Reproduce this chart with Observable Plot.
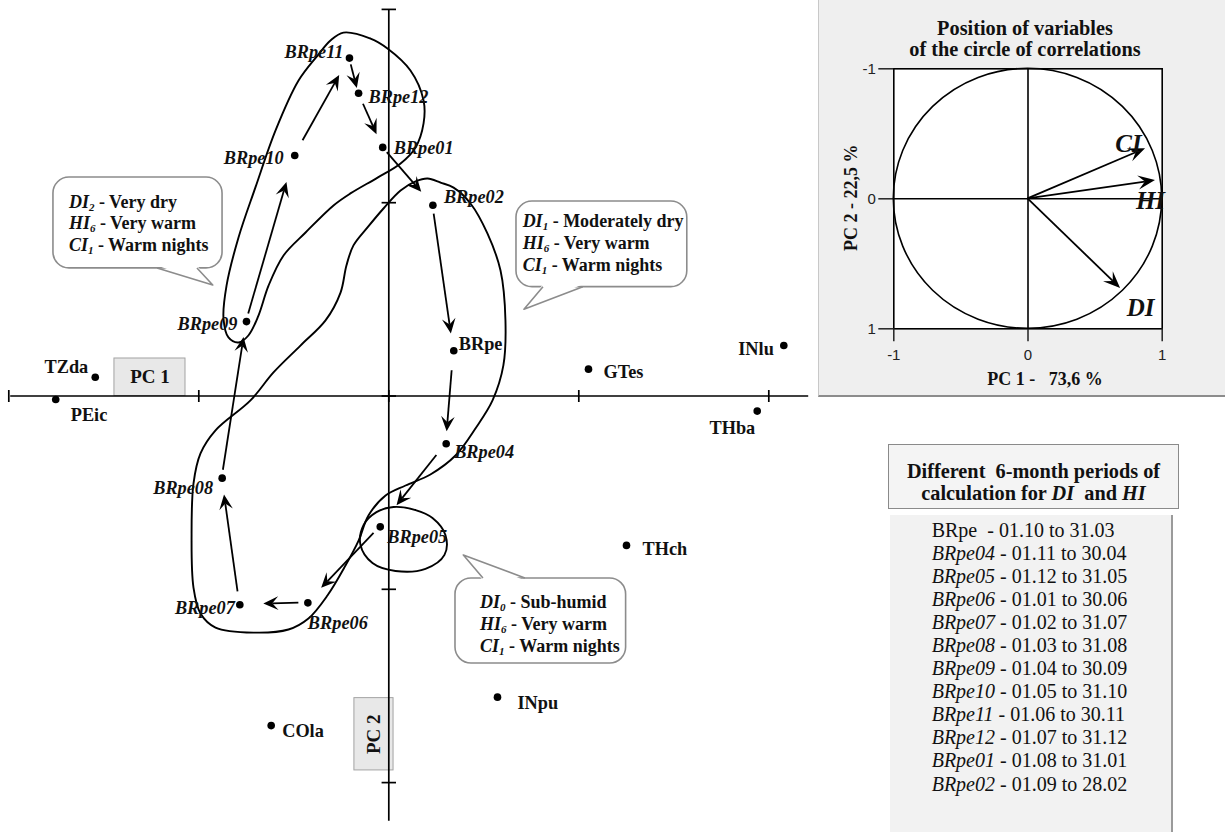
<!DOCTYPE html>
<html>
<head>
<meta charset="utf-8">
<script src="https://cdn.jsdelivr.net/npm/d3@7"></script>
<script src="https://cdn.jsdelivr.net/npm/@observablehq/plot@0.6"></script>
<style>
  body { margin: 0; background: #fff; }
  #wrap { position: relative; width: 1225px; height: 832px; overflow: hidden;
          font-family: "Liberation Serif", "Times New Roman", serif; color: #111; }
  #main { position: absolute; left: 0; top: 0; }
  #panel { position: absolute; left: 818px; top: 0; width: 407px; height: 397px; box-sizing: border-box;
           background: #efefef; border-left: 1px solid #c8c8c8; border-bottom: 2px solid #8c8c8c; }
  #thead { position: absolute; left: 888px; top: 444px; width: 291px; height: 65px; box-sizing: border-box;
           border: 1.5px solid #8a8a8a; background: #f4f4f4; text-align: center; font-weight: bold;
           font-size: 20.3px; line-height: 21.5px; padding-top: 16px; white-space: nowrap; }
  #tbody { position: absolute; left: 890px; top: 515px; width: 283px; height: 317px; box-sizing: border-box;
           background: #f2f2f2; border-right: 2px solid #9a9a9a; padding: 3.5px 0 0 41.7px;
           font-size: 20px; line-height: 23.1px; white-space: pre; }
</style>
</head>
<body>
<div id="wrap">
  <div id="main"></div>
  <div id="panel"></div>
  <div id="thead"></div>
  <div id="tbody"></div>
</div>
<script>
// ---------------- data ----------------
const sites = ["BRpe11","BRpe12","BRpe01","BRpe10","BRpe02","BRpe09","BRpe","TZda","PEic","GTes",
               "INlu","THba","BRpe04","BRpe08","BRpe05","THch","BRpe06","BRpe07","INpu","COla"];
const pc1 = [-0.207,-0.159,-0.032,-0.495,0.232,-0.749,0.342,-1.545,-1.753,1.051,
             2.079,1.939,0.302,-0.877,-0.045,1.251,-0.426,-0.784,0.572,-0.619];
const pc2 = [-1.748,-1.566,-1.286,-1.244,-0.987,-0.385,-0.234,-0.097,0.018,-0.139,
             -0.261,0.078,0.247,0.425,0.677,0.773,1.070,1.080,1.558,1.705];

// yearly sequence of the moving 6-month windows
const trajectory = ["BRpe09","BRpe10","BRpe11","BRpe12","BRpe01","BRpe02","BRpe",
                    "BRpe04","BRpe05","BRpe06","BRpe07","BRpe08","BRpe09"];

const axisTicks = [-2,-1,0,1,2];

// hand-drawn grouping outlines (PC1, PC2)
const contourA = [[-0.239,-1.880],[-0.096,-1.849],[-0.007,-1.798],[0.114,-1.684],[0.183,-1.529],[0.183,-1.410],
  [0.141,-1.286],[0.062,-1.203],[-0.059,-1.130],[-0.202,-1.048],[-0.291,-0.986],[-0.438,-0.846],[-0.554,-0.727],
  [-0.633,-0.571],[-0.686,-0.416],[-0.739,-0.313],[-0.791,-0.277],[-0.844,-0.303],[-0.870,-0.401],[-0.854,-0.571],
  [-0.791,-0.820],[-0.702,-1.079],[-0.596,-1.374],[-0.475,-1.632],[-0.375,-1.761],[-0.307,-1.839]];
const contourB = [[0.204,-1.125],[0.272,-1.104],[0.341,-1.078],[0.430,-0.996],[0.519,-0.841],[0.588,-0.649],
  [0.614,-0.391],[0.603,-0.158],[0.546,0.023],[0.456,0.168],[0.351,0.308],[0.219,0.406],[0.088,0.463],
  [-0.017,0.515],[-0.107,0.618],[-0.159,0.748],[-0.228,0.877],[-0.323,1.032],[-0.423,1.151],[-0.528,1.208],
  [-0.712,1.224],[-0.912,1.198],[-0.991,1.125],[-1.028,0.991],[-1.038,0.722],[-1.028,0.453],[-0.991,0.297],
  [-0.912,0.178],[-0.728,0.023],[-0.607,-0.122],[-0.465,-0.261],[-0.333,-0.391],[-0.254,-0.535],[-0.223,-0.675],
  [-0.186,-0.779],[-0.112,-0.872],[-0.028,-0.970],[0.062,-1.063],[0.141,-1.110]];
const contourC = [[0.025,0.574],[0.141,0.590],[0.230,0.631],[0.298,0.719],[0.293,0.822],[0.193,0.894],
  [0.035,0.905],[-0.086,0.864],[-0.149,0.771],[-0.133,0.668],[-0.065,0.601]];

// callout texts
const calloutIndex = [["DI","HI","CI"]];
const callout1 = [["DI","2","Very dry"],["HI","6","Very warm"],["CI","1","Warm nights"]];
const callout2 = [["DI","1","Moderately dry"],["HI","6","Very warm"],["CI","1","Warm nights"]];
const callout3 = [["DI","0","Sub-humid"],["HI","6","Very warm"],["CI","1","Warm nights"]];

// circle of correlations
const variables = ["CI","HI","DI"];
const corrPC1 = [0.876, 0.950, 0.690];
const corrPC2 = [-0.385, -0.140, 0.690];
const corrTicks = [-1, 0, 1];

// table of periods
const periodSites = ["BRpe","BRpe04","BRpe05","BRpe06","BRpe07","BRpe08","BRpe09","BRpe10","BRpe11","BRpe12","BRpe01","BRpe02"];
const periodStart = ["01.10","01.11","01.12","01.01","01.02","01.03","01.04","01.05","01.06","01.07","01.08","01.09"];
const periodEnd   = ["31.03","30.04","31.05","30.06","31.07","31.08","30.09","31.10","30.11","31.12","31.01","28.02"];

// ---------------- layout (not data) ----------------
const SERIF = '"Liberation Serif", "Times New Roman", serif';
const SANS = '"Liberation Sans", Arial, sans-serif';
const labelPlace = { // dx, dy (px), anchor
  BRpe11:[-6,-6,"end"], BRpe12:[10,4,"start"], BRpe01:[11,1,"start"], BRpe10:[-11,3,"end"],
  BRpe02:[11,-8,"start"], BRpe09:[-9,3,"end"], BRpe:[5,-7,"start"], TZda:[-7,-10,"end"],
  PEic:[15,16,"start"], GTes:[15,3,"start"], INlu:[-10,4,"end"], THba:[-2,17,"end"],
  BRpe04:[8,8,"start"], BRpe08:[-9,10,"end"], BRpe05:[7,10,"start"], THch:[16,4,"start"],
  BRpe06:[0,20,"start"], BRpe07:[-5,3,"end"], INpu:[20,6,"start"], COla:[11,6,"start"]
};
const arrowInsets = [[8,28],[17,20],[7,5],[12,14],[7,17],[9,17],[20,12],[15,27],[9,20],[9,24],[13,17],[8,16]];
const calloutGeom = [
  {lines: callout1, x1:-1.765, x2:-0.875, y1:-1.130, y2:-0.660, side:"bottom", tA:-1.217, tB:-1.007, tipX:-0.924, tipY:-0.572, textX:-1.681, lineY:[-1.003,-0.892,-0.779]},
  {lines: callout2, x1:0.672, x2:1.571, y1:-1.006, y2:-0.563, side:"bottom", tA:0.814, tB:1.024, tipX:0.714, tipY:-0.446, textX:0.707, lineY:[-0.904,-0.790,-0.675]},
  {lines: callout3, x1:0.351, x2:1.249, y1:0.944, y2:1.384, side:"top", tA:0.498, tB:0.719, tipX:0.395, tipY:0.825, textX:0.483, lineY:[1.068,1.182,1.294]}
];
const pcBoxes = [
  {label:"PC 1", x1:-1.444, x2:-1.070, y1:-0.194, y2:0, rotate:0},
  {label:"PC 2", x1:-0.181, x2:0.025, y1:1.563, y2:1.937, rotate:-90}
];

// ---------------- helpers ----------------
const NS = "http://www.w3.org/2000/svg";
function el(tag, attrs = {}) { const e = document.createElementNS(NS, tag); for (const k in attrs) e.setAttribute(k, attrs[k]); return e; }

function barbArrows(segs, {head = 15, half = 6.8, notch = 0.6, sw = 1.8} = {}) {
  return (index, scales) => {
    const g = el("g");
    for (const s of segs) {
      const ax = scales.x(s.x1), ay = scales.y(s.y1), bx = scales.x(s.x2), by = scales.y(s.y2);
      const L = Math.hypot(bx - ax, by - ay), ux = (bx - ax) / L, uy = (by - ay) / L, nx = -uy, ny = ux;
      const sx = ax + ux * s.i0, sy = ay + uy * s.i0, ex = bx - ux * s.i1, ey = by - uy * s.i1;
      const cx = ex - ux * head, cy = ey - uy * head, mx = ex - ux * head * notch, my = ey - uy * head * notch;
      g.append(el("line", {x1: sx, y1: sy, x2: mx, y2: my, stroke: "black", "stroke-width": sw}));
      g.append(el("path", {d: `M${ex},${ey}L${cx + nx * half},${cy + ny * half}L${mx},${my}L${cx - nx * half},${cy - ny * half}Z`, fill: "black"}));
    }
    return g;
  };
}

function callouts(list) {
  return (index, {x, y}) => {
    const g = el("g", {"text-anchor": "start"});
    for (const c of list) {
      const X1 = x(c.x1), X2 = x(c.x2), Y1 = y(c.y1), Y2 = y(c.y2);
      g.append(el("rect", {x: X1, y: Y1, width: X2 - X1, height: Y2 - Y1, rx: 16, ry: 16, fill: "white", stroke: "#8c8c8c", "stroke-width": 1.6}));
      const edge = c.side === "bottom" ? Y2 : Y1, inward = c.side === "bottom" ? -2.5 : 2.5;
      const a = x(c.tA), b = x(c.tB), tx = x(c.tipX), ty = y(c.tipY);
      g.append(el("path", {d: `M${a},${edge + inward}L${tx},${ty}L${b},${edge + inward}Z`, fill: "white"}));
      g.append(el("path", {d: `M${a},${edge}L${tx},${ty}L${b},${edge}`, fill: "none", stroke: "#8c8c8c", "stroke-width": 1.6, "stroke-linejoin": "round"}));
      c.lines.forEach((ln, i) => {
        const t = el("text", {x: x(c.textX), y: y(c.lineY[i]), dy: "0.35em", "text-anchor": "start", "font-family": SERIF, "font-weight": "bold", "font-size": 18, fill: "#111", style: "white-space:pre"});
        const t1 = el("tspan", {"font-style": "italic"}); t1.textContent = ln[0];
        const t2 = el("tspan", {"font-style": "italic", "font-size": 11, dy: 3}); t2.textContent = ln[1];
        const t3 = el("tspan", {dy: -3}); t3.textContent = " - " + ln[2];
        t.append(t1, t2, t3); g.append(t);
      });
    }
    return g;
  };
}

// ---------------- main biplot ----------------
const points = sites.map((s, i) => ({site: s, x: pc1[i], y: pc2[i], italic: /\d/.test(s)}));
const bySite = new Map(points.map(d => [d.site, d]));
const segments = trajectory.slice(1).map((s, i) => {
  const a = bySite.get(trajectory[i]), b = bySite.get(s);
  return {x1: a.x, y1: a.y, x2: b.x, y2: b.y, i0: arrowInsets[i][0], i1: arrowInsets[i][1]};
});
const toPts = arr => arr.map(([x, y]) => ({x, y}));

const labelMarks = points.map(d => {
  const [dx, dy, anchor] = labelPlace[d.site];
  return Plot.text([d], {x: "x", y: "y", text: "site", dx, dy, textAnchor: anchor,
    fontFamily: SERIF, fontWeight: "bold", fontStyle: d.italic ? "italic" : "normal", fontSize: 18.3, fill: "#111"});
});

const main = Plot.plot({
  width: 815, height: 832,
  marginTop: 0, marginRight: 0, marginBottom: 0, marginLeft: 0,
  x: {domain: [-2, 2], range: [8.3, 768.3], axis: null},
  y: {domain: [-2, 2], range: [8.9, 782.1], axis: null},
  style: {background: "transparent", overflow: "visible"},
  marks: [
    Plot.rect(pcBoxes, {x1: "x1", x2: "x2", y1: "y1", y2: "y2", fill: "#e8e8e8", stroke: "#a3a3a3", strokeWidth: 1}),
    Plot.ruleY([0], {x1: -1.99, x2: 2.21, stroke: "black", strokeWidth: 1.7}),
    Plot.ruleX([0], {y1: -2.0, y2: 2.2, stroke: "black", strokeWidth: 1.7}),
    Plot.link(axisTicks, {x1: d => d, x2: d => d, y1: -0.031, y2: 0.031, stroke: "black", strokeWidth: 1.7}),
    Plot.link(axisTicks, {y1: d => d, y2: d => d, x1: -0.038, x2: 0.038, stroke: "black", strokeWidth: 1.7}),
    Plot.text(pcBoxes, {x: d => (d.x1 + d.x2) / 2, y: d => (d.y1 + d.y2) / 2, text: "label", rotate: d => d.rotate,
      fontFamily: SERIF, fontWeight: "bold", fontSize: 19, fill: "#111"}),
    Plot.line(toPts(contourA), {x: "x", y: "y", curve: "catmull-rom-closed", stroke: "black", strokeWidth: 1.9}),
    Plot.line(toPts(contourB), {x: "x", y: "y", curve: "catmull-rom-closed", stroke: "black", strokeWidth: 1.9}),
    Plot.line(toPts(contourC), {x: "x", y: "y", curve: "catmull-rom-closed", stroke: "black", strokeWidth: 1.9}),
    callouts(calloutGeom),
    barbArrows(segments),
    Plot.dot(points, {x: "x", y: "y", r: 3.8, fill: "black"}),
    ...labelMarks
  ]
});
document.getElementById("main").append(main);

// ---------------- circle of correlations ----------------
const vars = variables.map((v, i) => ({v, x: corrPC1[i], y: corrPC2[i]}));
const varLabelPlace = {CI: [-17, -5], HI: [-5, 20], DI: [20, 19]};
const ellipse = (index, {x, y}) => el("ellipse", {cx: x(0), cy: y(0), rx: x(1) - x(0), ry: y(1) - y(0), fill: "none", stroke: "black", "stroke-width": 1.6});

const panel = Plot.plot({
  width: 406, height: 395,
  marginLeft: 74.3, marginRight: 63.3, marginTop: 68.3, marginBottom: 66.7,
  x: {domain: [-1, 1]},
  y: {domain: [-1, 1], reverse: true},
  style: {background: "transparent", overflow: "visible", color: "#222"},
  marks: [
    Plot.frame({fill: "white", stroke: "black", strokeWidth: 1.6}),
    Plot.axisX({ticks: corrTicks, tickSize: 13, tickPadding: 8, tickFormat: d => String(d), fontSize: 15, fontFamily: SANS, strokeWidth: 1.5, label: null}),
    Plot.axisY({ticks: corrTicks, tickSize: 15, tickPadding: 3, tickFormat: d => String(d), fontSize: 15, fontFamily: SANS, strokeWidth: 1.5, label: null}),
    Plot.ruleX([0], {stroke: "black", strokeWidth: 1.6}),
    Plot.ruleY([0], {stroke: "black", strokeWidth: 1.6}),
    ellipse,
    barbArrows(vars.map(d => ({x1: 0, y1: 0, x2: d.x, y2: d.y, i0: 0, i1: 0})), {head: 17, half: 7, notch: 0.6, sw: 1.8}),
    ...vars.map(d => Plot.text([d], {x: "x", y: "y", text: "v", dx: varLabelPlace[d.v][0], dy: varLabelPlace[d.v][1],
      fontFamily: SERIF, fontWeight: "bold", fontStyle: "italic", fontSize: 25, fill: "#111"})),
    Plot.text(["Position of variables"], {frameAnchor: "top", lineAnchor: "middle", dx: -3, dy: -40, fontFamily: SERIF, fontWeight: "bold", fontSize: 20.3, fill: "#111"}),
    Plot.text(["of the circle of correlations"], {frameAnchor: "top", lineAnchor: "middle", dx: -3, dy: -19, fontFamily: SERIF, fontWeight: "bold", fontSize: 20.3, fill: "#111"}),
    Plot.text(["PC 2 - 22,5 %"], {frameAnchor: "left", textAnchor: "middle", lineAnchor: "middle", dx: -43, dy: -1, rotate: -90, fontFamily: SERIF, fontWeight: "bold", fontSize: 18, fill: "#111"}),
    Plot.text(["PC 1 -\u00a0\u00a0 73,6 %"], {frameAnchor: "bottom", textAnchor: "middle", lineAnchor: "middle", dx: 17, dy: 50, fontFamily: SERIF, fontWeight: "bold", fontSize: 18, fill: "#111"})
  ]
});
document.getElementById("panel").append(panel);

// ---------------- table of periods ----------------
document.getElementById("thead").innerHTML =
  "Different&nbsp; 6-month periods of<br>calculation for <i>" + calloutIndex[0][0] + "</i>&nbsp; and <i>" + calloutIndex[0][1] + "</i>";
const tbody = document.getElementById("tbody");
periodSites.forEach((s, i) => {
  const line = document.createElement("div");
  const name = document.createElement(/\d/.test(s) ? "i" : "span");
  name.textContent = s;
  line.append(name, document.createTextNode((/\d/.test(s) ? " - " : "  - ") + periodStart[i] + " to " + periodEnd[i]));
  tbody.append(line);
});
</script>
</body>
</html>
